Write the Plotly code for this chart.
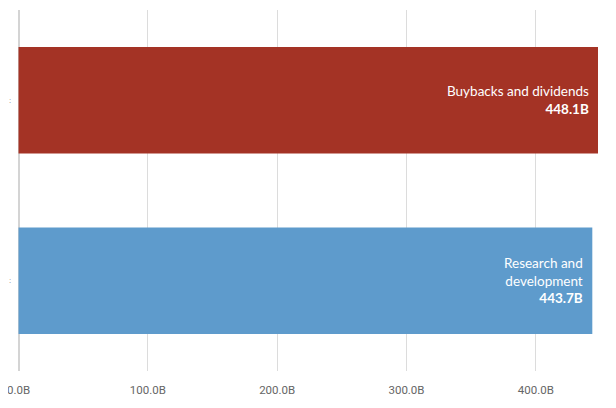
import plotly.graph_objects as go

categories = ["Buybacks and dividends", "Research and development"]
label_lines = ["Buybacks and dividends", "Research and<br>development"]
values = [448.1, 443.7]
colors = ["#A43325", "#5E9BCC"]
tick_vals = [0, 100, 200, 300, 400]
tick_text = ["0.0B", "100.0B", "200.0B", "300.0B", "400.0B"]

fig = go.Figure()
fig.add_trace(go.Bar(
    y=categories, x=values, orientation="h",
    marker=dict(color=colors, line=dict(width=0)),
    hoverinfo="skip",
))

for cat, lab, v in zip(categories, label_lines, values):
    fig.add_annotation(
        x=v, y=cat, xref="x", yref="y",
        text=f"{lab}<br><b>{v:.1f}B</b>",
        showarrow=False, xanchor="right", yanchor="middle",
        align="right", xshift=-7,
        font=dict(family="Lato, sans-serif", size=13.5, color="white"),
    )

fig.update_layout(
    width=608, height=400,
    margin=dict(l=10, r=18, t=2, b=37),
    paper_bgcolor="white", plot_bgcolor="white",
    bargap=0.41,
    showlegend=False,
    xaxis=dict(
        range=[-0.4, 448.1], tickvals=tick_vals, ticktext=tick_text,
        showgrid=True, gridcolor="#dcdcdc", gridwidth=1,
        zeroline=True, zerolinecolor="#d4d4d4", zerolinewidth=1.5,
        showline=False, ticks="",
        tickfont=dict(family="Roboto, sans-serif", size=11.5, color="#666666"),
        automargin=False, ticklabelstandoff=10, ticklabeloverflow="allow",
    ),
    yaxis=dict(
        categoryorder="array", categoryarray=categories[::-1],
        tickvals=categories, ticktext=[":", ":"],
        tickfont=dict(family="Roboto, sans-serif", size=7, color="#666666"),
        showgrid=False, zeroline=False, showline=False, ticks="",
        automargin=False, ticklabelstandoff=6,
    ),
)

fig.write_html("out.html")
